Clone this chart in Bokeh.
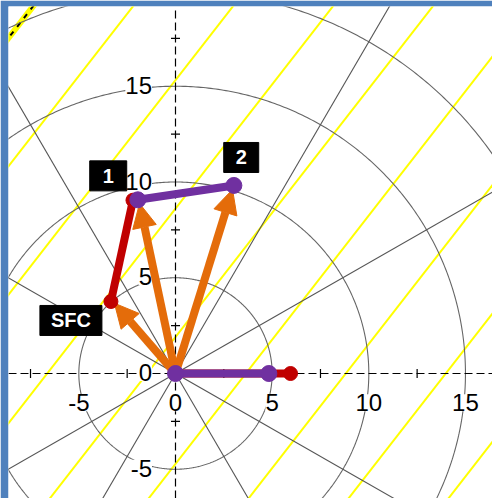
import numpy as np
from bokeh.plotting import figure
from bokeh.models import Range1d, Arrow, NormalHead, ColumnDataSource
from bokeh.core.properties import value
from bokeh.embed import file_html
from bokeh.resources import INLINE

# ---------------- data ----------------
RING_RADII = [5, 10, 15, 20]
RADIAL_DEG = [30, 60, 120, 150, 210, 240, 300, 330]
MINOR_TICKS = [-7.5, -2.5, 2.5, 7.5, 12.5, 17.5]
X_TICK_LABELS = [-5, 0, 5, 10, 15]
Y_TICK_LABELS = [-5, 0, 5, 10, 15]

# yellow guide lines: x-intercepts and common slope
YELLOW_X0 = [-22.15, -16.98, -11.81, -6.64, -1.47, 3.64, 8.81, 13.98, 19.15]
YELLOW_SLOPE = 1.297

# hodograph: surface -> level 1 (red), level 1 -> level 2 (purple)
RED_U = [-3.34, -2.2]
RED_V = [3.76, 9.05]
PURPLE_U = [-1.95, 3.02]
PURPLE_V = [9.07, 9.82]

# shear magnitudes laid on the x axis
RED_SHEAR = 5.95
PURPLE_SHEAR = 4.83

# wind vectors (orange arrows) tips
ARROW_U = [-3.16, -1.86, 2.95]
ARROW_V = [3.67, 8.88, 9.61]

# level labels
LEVEL_TEXT = ["SFC", "1", "2"]
LEVEL_U = [-5.41, -3.48, 3.40]
LEVEL_V = [2.77, 10.32, 11.28]

# ---------------- styles ----------------
ORANGE = "#E46C0A"
RED = "#C00000"
PURPLE = "#7030A0"
YELLOW = "#FFFF00"
GRID = "#666666"
FRAME_BLUE = "#4F81BD"
FONT = "Liberation Sans"
BOX_W = [62, 37, 35]

X0, X1 = -8.639, 16.399
Y0, Y1 = -6.527, 19.164

p = figure(width=492, height=498, x_range=Range1d(X0, X1), y_range=Range1d(Y0, Y1),
           x_axis_type=None, y_axis_type=None,
           min_border_left=8, min_border_top=6, min_border_right=0, min_border_bottom=0,
           toolbar_location=None, output_backend="svg")
p.outline_line_color = None
p.background_fill_color = "white"
p.border_fill_color = FRAME_BLUE

under = []

# yellow lines
yy0, yy1 = -10.0, 25.0
yx0 = [x0 + yy0 / YELLOW_SLOPE for x0 in YELLOW_X0]
yx1 = [x0 + yy1 / YELLOW_SLOPE for x0 in YELLOW_X0]
under.append(p.segment(x0=yx0[1:], y0=[yy0] * (len(YELLOW_X0) - 1),
                       x1=yx1[1:], y1=[yy1] * (len(YELLOW_X0) - 1),
                       line_color=YELLOW, line_width=2))
under.append(p.segment(x0=yx0[:1], y0=[yy0], x1=yx1[:1], y1=[yy1],
                       line_color=YELLOW, line_width=6))
under.append(p.segment(x0=yx0[:1], y0=[yy0], x1=yx1[:1], y1=[yy1],
                       line_color="black", line_width=2, line_dash="5 6"))

# rings
th = np.linspace(0, 2 * np.pi, 721)
under.append(p.multi_line(xs=[list(r * np.cos(th)) for r in RING_RADII],
                          ys=[list(r * np.sin(th)) for r in RING_RADII],
                          line_color=GRID, line_width=1.1))
# radial lines
ang = np.deg2rad(RADIAL_DEG)
under.append(p.segment(x0=[0] * len(ang), y0=[0] * len(ang),
                       x1=list(40 * np.cos(ang)), y1=list(40 * np.sin(ang)),
                       line_color="#555555", line_width=1.1))

# dashed axes
under.append(p.segment(x0=[X0, 0], y0=[0, Y0], x1=[X1, 0], y1=[0, Y1],
                       line_color="black", line_width=1.2, line_dash="8 4"))
# minor ticks
under.append(p.scatter(x=MINOR_TICKS, y=[0] * len(MINOR_TICKS), marker="dash",
                       size=9, angle=np.pi / 2, line_color="black", line_width=1.2))
under.append(p.scatter(x=[0] * len(MINOR_TICKS), y=MINOR_TICKS, marker="dash",
                       size=9, line_color="black", line_width=1.2))

# tick labels (white background)
under.append(p.text(x=X_TICK_LABELS, y=[-1.53] * len(X_TICK_LABELS),
                    text=[str(v) for v in X_TICK_LABELS],
                    text_font=value(FONT), text_font_size="24px", text_color="black",
                    text_align="center", text_baseline="alphabetic",
                    background_fill_color="white"))
under.append(p.text(x=[-1.216] * len(Y_TICK_LABELS), y=[v + 0.05 for v in Y_TICK_LABELS],
                    text=[str(v) for v in Y_TICK_LABELS],
                    text_font=value(FONT), text_font_size="24px", text_color="black",
                    text_align="right", text_baseline="alphabetic",
                    background_fill_color="white"))

for r in under:
    r.level = "underlay"

# orange wind arrows
asrc = ColumnDataSource(dict(x0=[0] * len(ARROW_U), y0=[0] * len(ARROW_U),
                             x1=ARROW_U, y1=ARROW_V))
arrows = Arrow(source=asrc, x_start="x0", y_start="y0", x_end="x1", y_end="y1",
               line_color=ORANGE, line_width=8,
               end=NormalHead(size=24, fill_color=ORANGE, line_color=ORANGE, line_width=1),
               level="underlay")
p.add_layout(arrows)

# shear on x axis
p.line(x=[0, RED_SHEAR], y=[0, 0], line_color=RED, line_width=8)
p.scatter(x=[RED_SHEAR], y=[0], size=14, fill_color=RED, line_color=RED)
p.line(x=[0, PURPLE_SHEAR], y=[0, 0], line_color=PURPLE, line_width=8)
p.scatter(x=[0, PURPLE_SHEAR], y=[0, 0], size=16, fill_color=PURPLE, line_color=PURPLE)

# hodograph segments
p.line(x=RED_U, y=RED_V, line_color=RED, line_width=8)
p.scatter(x=RED_U, y=RED_V, size=14, fill_color=RED, line_color=RED)
p.line(x=PURPLE_U, y=PURPLE_V, line_color=PURPLE, line_width=8)
p.scatter(x=PURPLE_U, y=PURPLE_V, size=16, fill_color=PURPLE, line_color=PURPLE)

# level label boxes
p.rect(x=LEVEL_U, y=LEVEL_V, width=BOX_W, height=30, width_units="screen",
       height_units="screen", fill_color="black", line_color="black")
p.text(x=LEVEL_U, y=LEVEL_V, text=LEVEL_TEXT, text_font=value(FONT),
       text_font_size="20px", text_font_style="bold", text_color="white",
       text_align="center", text_baseline="middle")

open("out.html", "w").write(file_html(p, INLINE))
